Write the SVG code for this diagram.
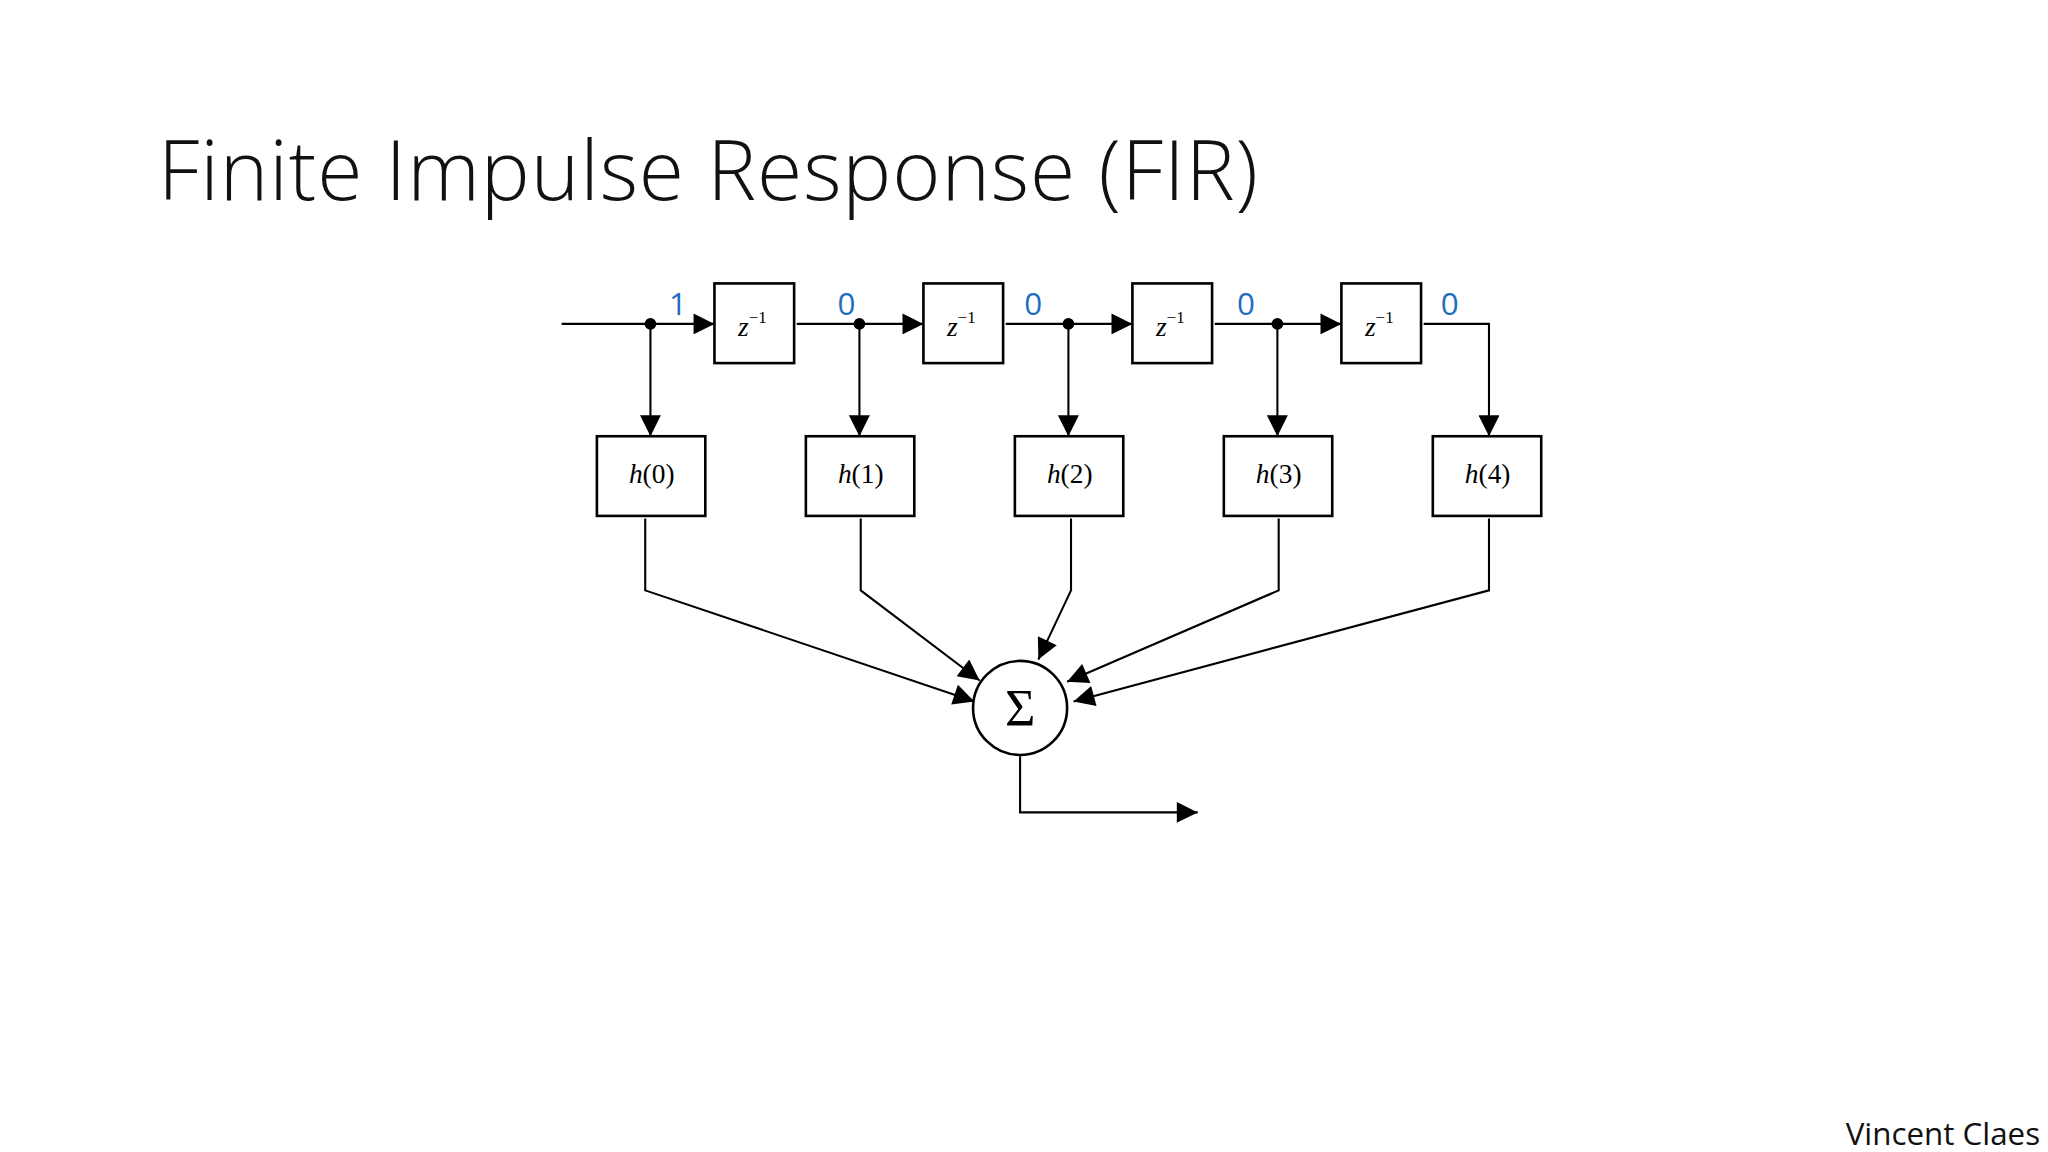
<svg xmlns="http://www.w3.org/2000/svg" width="2048" height="1152" viewBox="0 0 2048 1152">
<defs>
<marker id="ar" viewBox="0 0 10 10" refX="10" refY="5" markerWidth="20" markerHeight="16" markerUnits="userSpaceOnUse" orient="auto"><path d="M0,0L10,5L0,10z" fill="#000"/></marker>
<style>
.b{fill:#fff;stroke:#000;stroke-width:2}
.l{fill:none;stroke:#000;stroke-width:1.6}
.m{font-family:"Liberation Serif",serif;font-style:italic;font-size:21px;text-anchor:middle}
.n{font-family:"Liberation Serif",serif;font-size:21px}
.v{font-family:"Open Sans","Liberation Sans",sans-serif;font-size:24px;fill:#1f6fbf;text-anchor:middle}
</style>
</defs>
<rect width="2048" height="1152" fill="#fff"/>
<g transform="scale(1.30612)">
<text x="121" y="153" font-family="Open Sans, Liberation Sans, sans-serif" font-weight="300" font-size="63" textLength="842" fill="#111">Finite Impulse Response (FIR)</text>
<text x="1562" y="877" font-family="Open Sans, Liberation Sans, sans-serif" font-size="24" text-anchor="end" fill="#111">Vincent Claes</text>
<g id="connectors">
<path class="l" d="M430,248H547" marker-end="url(#ar)"/>
<path class="l" d="M610,248H707" marker-end="url(#ar)"/>
<path class="l" d="M770,248H867" marker-end="url(#ar)"/>
<path class="l" d="M930,248H1027" marker-end="url(#ar)"/>
<path class="l" d="M1090,248H1140V334" marker-end="url(#ar)"/>
<path class="l" d="M498,248V334" marker-end="url(#ar)"/>
<path class="l" d="M658,248V334" marker-end="url(#ar)"/>
<path class="l" d="M818,248V334" marker-end="url(#ar)"/>
<path class="l" d="M978,248V334" marker-end="url(#ar)"/>
<circle cx="498" cy="248" r="4.5"/><circle cx="658" cy="248" r="4.5"/><circle cx="818" cy="248" r="4.5"/><circle cx="978" cy="248" r="4.5"/>
<path class="l" d="M494,397V452L746,537" marker-end="url(#ar)"/>
<path class="l" d="M659,397V452L750,521" marker-end="url(#ar)"/>
<path class="l" d="M820,397V452L795,505" marker-end="url(#ar)"/>
<path class="l" d="M979,397V452L817,522" marker-end="url(#ar)"/>
<path class="l" d="M1140,397V452L822,537" marker-end="url(#ar)"/>
<path class="l" d="M781,579V622H917" marker-end="url(#ar)"/>
</g>
<g id="z1"><rect class="b" x="547" y="217" width="61" height="61"/><text class="m" x="576" y="257">z<tspan font-style="normal" font-size="13" dy="-10">−1</tspan></text></g>
<g id="z2"><rect class="b" x="707" y="217" width="61" height="61"/><text class="m" x="736" y="257">z<tspan font-style="normal" font-size="13" dy="-10">−1</tspan></text></g>
<g id="z3"><rect class="b" x="867" y="217" width="61" height="61"/><text class="m" x="896" y="257">z<tspan font-style="normal" font-size="13" dy="-10">−1</tspan></text></g>
<g id="z4"><rect class="b" x="1027" y="217" width="61" height="61"/><text class="m" x="1056" y="257">z<tspan font-style="normal" font-size="13" dy="-10">−1</tspan></text></g>
<g id="h0"><rect class="b" x="457" y="334" width="83" height="61"/><text class="m" x="499" y="370">h<tspan font-style="normal">(0)</tspan></text></g>
<g id="h1"><rect class="b" x="617" y="334" width="83" height="61"/><text class="m" x="659" y="370">h<tspan font-style="normal">(1)</tspan></text></g>
<g id="h2"><rect class="b" x="777" y="334" width="83" height="61"/><text class="m" x="819" y="370">h<tspan font-style="normal">(2)</tspan></text></g>
<g id="h3"><rect class="b" x="937" y="334" width="83" height="61"/><text class="m" x="979" y="370">h<tspan font-style="normal">(3)</tspan></text></g>
<g id="h4"><rect class="b" x="1097" y="334" width="83" height="61"/><text class="m" x="1139" y="370">h<tspan font-style="normal">(4)</tspan></text></g>
<g id="sum"><circle class="b" cx="781" cy="542" r="36"/><text x="781" y="556" font-family="Liberation Serif, serif" font-size="40" text-anchor="middle">Σ</text></g>
<g id="labels">
<text class="v" x="519" y="241">1</text><text class="v" x="648" y="241">0</text><text class="v" x="791" y="241">0</text><text class="v" x="954" y="241">0</text><text class="v" x="1110" y="241">0</text>
</g>
</g>
</svg>
